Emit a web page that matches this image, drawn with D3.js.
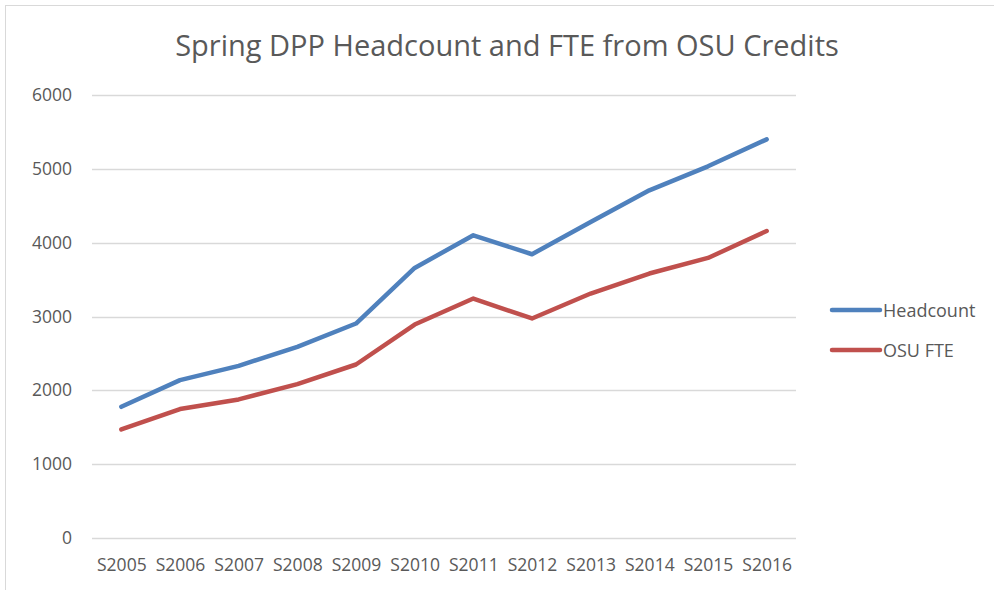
<!DOCTYPE html>
<html>
<head>
<meta charset="utf-8">
<script src="https://cdn.jsdelivr.net/npm/d3@7"></script>
<style>
  body { margin: 0; background: #fff; }
  text { font-family: "Open Sans", sans-serif; fill: #595959; }
</style>
</head>
<body>
<script>
// spring terms on the x axis
var terms = ["S2005", "S2006", "S2007", "S2008", "S2009", "S2010",
             "S2011", "S2012", "S2013", "S2014", "S2015", "S2016"];

// values
var headcount = [1777, 2138, 2332, 2589, 2905, 3658, 4100, 3843, 4280, 4709, 5034, 5399];
var osuFte    = [1471, 1746, 1877, 2084, 2350, 2891, 3243, 2973, 3311, 3582, 3793, 4158];

var yTicks = [0, 1000, 2000, 3000, 4000, 5000, 6000];

var seriesNames  = ["Headcount", "OSU FTE"];
var seriesColors = ["#4F81BD", "#C0504D"];

var width = 994,
    height = 590;

var svg = d3.select("body").append("svg")
    .attr("width", width)
    .attr("height", height);

// chart area frame
svg.append("rect")
    .attr("x", 5.5).attr("y", 5.5)
    .attr("width", 1000).attr("height", 600)
    .attr("fill", "none")
    .attr("stroke", "#d9d9d9");

var x = d3.scalePoint()
    .domain(terms)
    .range([92, 796])
    .padding(0.5);

var y = d3.scaleLinear()
    .domain([0, 6000])
    .range([538, 95]);

// gridlines
svg.append("g")
    .selectAll("line")
    .data(yTicks)
    .enter().append("line")
    .attr("x1", 92).attr("x2", 796)
    .attr("y1", function(d) { return Math.round(y(d)) + 0.5; })
    .attr("y2", function(d) { return Math.round(y(d)) + 0.5; })
    .attr("stroke", "#d9d9d9")
    .attr("stroke-width", 1.3);

// y axis labels
var yAxis = d3.axisLeft(y).tickValues(yTicks).tickFormat(d3.format("d")).tickSize(0).tickPadding(0);
svg.append("g")
    .attr("transform", "translate(72,0)")
    .call(yAxis)
    .call(function(g) {
        g.select(".domain").remove();
        g.selectAll("text")
            .attr("font-size", 17.5)
            .attr("font-family", "Open Sans, sans-serif")
            .attr("fill", "#595959");
    });

// x axis labels
var xAxis = d3.axisBottom(x).tickSize(0).tickPadding(0);
svg.append("g")
    .attr("transform", "translate(0,559)")
    .call(xAxis)
    .call(function(g) {
        g.select(".domain").remove();
        g.selectAll("text")
            .attr("font-size", 17.5)
            .attr("font-family", "Open Sans, sans-serif")
            .attr("fill", "#595959");
    });

var line = d3.line()
    .x(function(d, i) { return x(terms[i]); })
    .y(function(d) { return y(d); });

[headcount, osuFte].forEach(function(vals, i) {
    svg.append("path")
        .datum(vals)
        .attr("d", line)
        .attr("fill", "none")
        .attr("stroke", seriesColors[i])
        .attr("stroke-width", 4.5)
        .attr("stroke-linejoin", "round")
        .attr("stroke-linecap", "round");
});

// title
svg.append("text")
    .attr("x", 507)
    .attr("y", 56)
    .attr("text-anchor", "middle")
    .attr("font-size", 29)
    .text("Spring DPP Headcount and FTE from OSU Credits");

// legend
var legend = svg.append("g")
    .selectAll("g")
    .data(seriesNames)
    .enter().append("g")
    .attr("transform", function(d, i) { return "translate(832," + (310 + i * 40) + ")"; });

legend.append("line")
    .attr("x1", 0).attr("x2", 48)
    .attr("stroke", function(d, i) { return seriesColors[i]; })
    .attr("stroke-width", 4.5)
    .attr("stroke-linecap", "round");

legend.append("text")
    .attr("x", 51)
    .attr("y", 6.5)
    .attr("font-size", 18)
    .text(function(d) { return d; });
</script>
</body>
</html>
